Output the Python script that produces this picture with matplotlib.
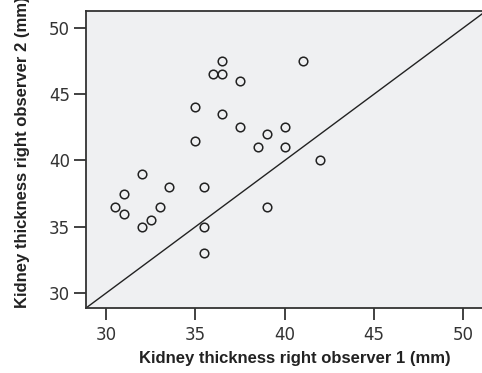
import matplotlib
matplotlib.use("Agg")
import matplotlib.pyplot as plt

observer1 = [30.5, 31, 31, 32, 32, 32.5, 33, 33.5, 35, 35, 35.5, 35.5, 35.5,
             36, 36.5, 36.5, 36.5, 37.5, 37.5, 38.5, 39, 39, 40, 40, 41, 42]
observer2 = [36.5, 37.5, 36, 39, 35, 35.5, 36.5, 38, 44, 41.5, 38, 35, 33,
             46.5, 47.5, 46.5, 43.5, 46, 42.5, 41, 42, 36.5, 42.5, 41, 47.5, 40]
xticks = [30, 35, 40, 45, 50]
yticks = [30, 35, 40, 45, 50]
xlabel = "Kidney thickness right observer 1 (mm)"
ylabel = "Kidney thickness right observer 2 (mm)"
lims = (28.88, 51.26)

plt.rcParams['font.family'] = ['Liberation Sans', 'DejaVu Sans']

fig = plt.figure(figsize=(4.82, 3.73), dpi=100)
ax = fig.add_axes([86/482, 65/373, (486-86)/482, (308-11)/373])
ax.set_facecolor('#eff0f2')

ax.plot(lims, lims, color='#222222', lw=1.0, zorder=2)
ax.plot(observer1, observer2, linestyle='none', marker='o', markersize=6.2,
        markerfacecolor='none', markeredgecolor='#222222', markeredgewidth=1.1, zorder=3)

ax.set_xlim(*lims)
ax.set_ylim(*lims)
ax.set_xticks(xticks)
ax.set_yticks(yticks)
for s in ax.spines.values():
    s.set_color('#333333')
    s.set_linewidth(1.3)
ax.tick_params(axis='both', direction='out', length=8.5, width=1.3, color='#333333',
               labelcolor='#333333')
for lbl in ax.get_xticklabels() + ax.get_yticklabels():
    lbl.set_fontfamily('DejaVu Sans')
    lbl.set_fontsize(12)
ax.tick_params(axis='x', pad=4.5)
ax.tick_params(axis='y', pad=3)
ax.set_xlabel(xlabel, fontsize=12, fontweight='bold', color='#222222')
ax.set_ylabel(ylabel, fontsize=12, fontweight='bold', color='#222222')
ax.xaxis.set_label_coords(0.5225, -0.145)
ax.yaxis.set_label_coords(-0.14, 0.525)

fig.savefig("out.png", dpi=100)
